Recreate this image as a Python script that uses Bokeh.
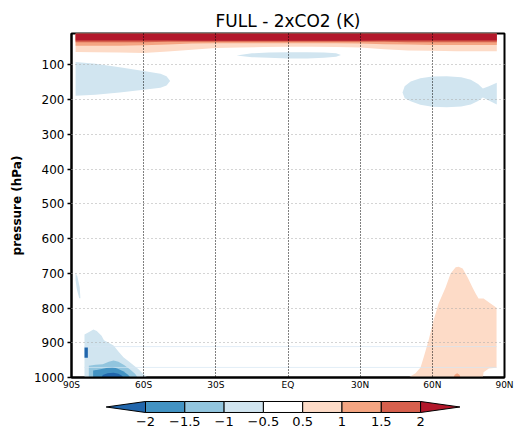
from bokeh.plotting import figure
from bokeh.layouts import column
from bokeh.models import Range1d, FixedTicker
from bokeh.embed import file_html
from bokeh.resources import INLINE
from bokeh.core.properties import value

FONT = "DejaVu Sans"

# contour levels (K) and the fill for each interval (below -2 ... above 2)
levels = [-2, -1.5, -1, -0.5, 0.5, 1, 1.5, 2]
level_labels = ["\u22122", "\u22121.5", "\u22121", "\u22120.5", "0.5", "1", "1.5", "2"]
fill_colors = ["#2166ac", "#4393c3", "#92c5de", "#d1e5f0", "#ffffff",
               "#fddbc7", "#f4a582", "#d6604d", "#b2182b"]

lat_ticks = [-90, -60, -30, 0, 30, 60, 90]
lat_tick_labels = ["90S", "60S", "30S", "EQ", "30N", "60N", "90N"]
p_ticks = [100, 200, 300, 400, 500, 600, 700, 800, 900, 1000]
p_top = 10

# stratospheric warming: lower edge (hPa) of each positive contour along latitude
top_lat = [-88.3, -80, -70, -60, -50, -40, -30, -20, -10, 0, 10, 20, 30, 40, 50, 60, 70, 80, 86.8]
top_p_05 = [63, 64, 65, 66, 62, 57, 52, 50, 49, 48, 48, 49, 50, 55, 59, 60, 61, 61, 61]
top_p_10 = [45, 45, 45, 44, 42, 39, 38, 38, 38, 38, 38, 38, 39, 41, 42, 43, 43, 43, 43]
top_p_15 = [35, 35, 35, 35, 34, 34, 34, 34, 34, 34, 34, 34, 34, 34, 35, 35, 35, 35, 35]
top_p_20 = [30, 30, 30, 30, 30, 31, 31, 31, 31, 31, 31, 31, 31, 30, 30, 30, 30, 30, 30]

# cooling regions (-1 .. -0.5 K) in the upper troposphere / lower stratosphere
sh_upper_lat = [-88.3, -80, -70, -60, -53, -50.5, -49, -50.5, -53, -60, -70, -80, -88.3]
sh_upper_p = [92, 97, 107, 118, 126, 133, 147, 160, 166, 172, 180, 186, 189]

eq_upper_lat = [-21.4, -15, -8, 0, 8, 15, 20, 22, 20, 15, 8, 0, -8, -15]
eq_upper_p = [73, 67, 65, 64, 64, 65, 67, 72, 77, 80, 82, 82, 80, 78]

nh_upper_lat = [47.6, 48.5, 51, 55, 60, 66, 72, 76, 79, 81, 83.5, 86.8,
                86.8, 83.5, 81, 79, 76, 72, 66, 60, 55, 51, 48.5]
nh_upper_p = [180, 162, 148, 139, 134, 133, 136, 143, 155, 168, 162, 152,
              214, 203, 194, 204, 214, 220, 222, 221, 215, 205, 196]

sh_sliver_lat = [-88.3, -87.6, -86.6, -86.3, -86.8, -87.8, -88.3]
sh_sliver_p = [700, 708, 740, 772, 772, 745, 720]

# Southern Ocean near-surface cooling, one outline per contour interval
sh_low_lat_05 = [-84.6, -84.6, -82.5, -80.9, -79.5, -77.5, -76.5, -74, -72.5,
                 -70.5, -68.4, -66, -64.2, -62, -60.5, -58.4]
sh_low_p_05 = [1000, 876, 868, 862, 866, 880, 893, 902, 908, 925, 942, 955, 965, 977, 988, 1000]
sh_low_lat_10 = [-82.8, -82.8, -80, -77, -74.5, -72.5, -70.5, -68, -65.5, -63.5, -62.5]
sh_low_p_10 = [1000, 966, 963, 962, 955, 951, 955, 965, 978, 990, 1000]
sh_low_lat_15 = [-81, -81, -78, -75, -73, -71, -68.5, -66.5, -65.5]
sh_low_p_15 = [1000, 980, 976, 972, 970, 974, 982, 992, 1000]
sh_low_lat_20 = [-77.5, -77, -75, -72.5, -70.5, -69, -68.5]
sh_low_p_20 = [1000, 993, 988, 986, 989, 995, 1000]
sh_edge_lat = [-84.6, -83.2, -83.2, -84.6]
sh_edge_p = [914, 914, 943, 943]

# Arctic lower-tropospheric warming
nh_low_lat_05 = [50.1, 53, 55.1, 56.4, 58.4, 60.5, 62.6, 65.5, 67.6, 69.7, 70.9, 72.6,
                 74.7, 76.7, 78, 79.2, 81.3, 84.2, 86.7, 86.7, 83.5, 81.3, 81]
nh_low_p_05 = [1000, 988, 971, 942, 894, 836, 787, 741, 701, 683, 681, 686,
               712, 741, 758, 773, 773, 787, 799, 972, 974, 985, 1000]
nh_low_lat_10 = [68.8, 69.3, 70.3, 71.3, 71.7]
nh_low_p_10 = [1000, 992, 988, 992, 1000]

# faint model-level seams
seam_p = [911, 971]
seam_lat0 = [-84.6, -84.6]
seam_lat1 = [86.7, 86.7]

p = figure(frame_width=433, frame_height=344,
           x_range=Range1d(-90, 90), y_range=Range1d(1000, p_top),
           min_border_left=71, min_border_right=10, min_border_top=33, min_border_bottom=14,
           output_backend="svg", toolbar_location=None, title="FULL - 2xCO2 (K)")

p.title.align = "center"
p.title.text_font = FONT
p.title.text_font_size = "17px"
p.title.text_font_style = "normal"
p.title.text_color = "black"
p.title.standoff = 5

# upper-level warming bands, stacked from weakest to strongest
for edge, color in zip([top_p_05, top_p_10, top_p_15, top_p_20], fill_colors[5:]):
    xs = top_lat + top_lat[::-1]
    ys = [p_top] * len(top_lat) + edge[::-1]
    p.patch(xs, ys, fill_color=color, line_color=None)

light_blue = fill_colors[3]
for xs, ys in [(sh_upper_lat, sh_upper_p), (eq_upper_lat, eq_upper_p),
               (nh_upper_lat, nh_upper_p), (sh_sliver_lat, sh_sliver_p)]:
    p.patch(xs, ys, fill_color=light_blue, line_color=None)

for xs, ys, color in [(sh_low_lat_05, sh_low_p_05, fill_colors[3]),
                      (sh_low_lat_10, sh_low_p_10, fill_colors[2]),
                      (sh_low_lat_15, sh_low_p_15, fill_colors[1]),
                      (sh_low_lat_20, sh_low_p_20, fill_colors[0]),
                      (sh_edge_lat, sh_edge_p, fill_colors[0]),
                      (nh_low_lat_05, nh_low_p_05, fill_colors[5]),
                      (nh_low_lat_10, nh_low_p_10, fill_colors[6])]:
    p.patch(xs, ys, fill_color=color, line_color=None)

p.segment(x0=seam_lat0, x1=seam_lat1, y0=seam_p, y1=seam_p,
          line_color="#d6e6f2", line_width=1, line_alpha=0.7)

p.xaxis.ticker = FixedTicker(ticks=lat_ticks)
p.xaxis.major_label_overrides = dict(zip(lat_ticks, lat_tick_labels))
p.xaxis.major_tick_out = 0
p.xaxis.major_tick_in = 0
p.xaxis.minor_tick_line_color = None
p.xaxis.major_label_standoff = 2
p.xaxis.major_label_text_font = FONT
p.xaxis.major_label_text_font_size = "9px"
p.xaxis.major_label_text_color = "black"

p.yaxis.ticker = FixedTicker(ticks=p_ticks)
p.yaxis.major_tick_out = 4
p.yaxis.major_tick_in = 0
p.yaxis.minor_tick_line_color = None
p.yaxis.major_label_standoff = 3
p.yaxis.major_label_text_font = FONT
p.yaxis.major_label_text_font_size = "12px"
p.yaxis.major_label_text_color = "black"
p.yaxis.axis_label = "pressure (hPa)"
p.yaxis.axis_label_text_font = FONT
p.yaxis.axis_label_text_font_size = "12px"
p.yaxis.axis_label_text_font_style = "bold"
p.yaxis.axis_label_text_color = "black"
p.yaxis.axis_label_standoff = 7

for ax in (p.xaxis, p.yaxis):
    ax.axis_line_width = 2
    ax.axis_line_color = "black"
    ax.major_tick_line_color = "black"
    ax.major_tick_line_width = 1.5

p.xgrid.ticker = FixedTicker(ticks=lat_ticks[1:-1])
p.xgrid.grid_line_color = "black"
p.xgrid.grid_line_dash = "1 2"
p.xgrid.grid_line_width = 1
p.xgrid.level = "overlay"
p.ygrid.ticker = FixedTicker(ticks=p_ticks[:-1])
p.ygrid.grid_line_color = "#a8a8a8"
p.ygrid.grid_line_dash = "1 3"
p.ygrid.grid_line_width = 1
p.ygrid.level = "overlay"

p.outline_line_color = "black"
p.outline_line_width = 2
p.background_fill_color = "white"
p.border_fill_color = "white"

# horizontal label bar with triangular end caps; its frame lines up with the plot frame
idx = list(range(len(levels)))
n = len(levels)
cb = figure(frame_width=433, frame_height=36,
            x_range=Range1d(-1.883, 9.135), y_range=Range1d(-1.455, 1.818),
            min_border_left=71, min_border_right=10, min_border_top=0, min_border_bottom=0,
            x_axis_type=None, y_axis_type=None,
            output_backend="svg", toolbar_location=None)
cb.outline_line_color = None
cb.quad(left=idx[:-1], right=idx[1:], bottom=0, top=1,
        fill_color=fill_colors[1:n], line_color="black", line_width=1)
cb.patches(xs=[[idx[0], idx[0] - 1, idx[0]], [idx[-1], idx[-1] + 1, idx[-1]]],
           ys=[[0, 0.5, 1], [0, 0.5, 1]],
           fill_color=[fill_colors[0], fill_colors[-1]], line_color="black", line_width=1)
cb.text(x=idx, y=-0.78, text=level_labels, text_align="center", text_baseline="middle",
        text_font=value(FONT), text_font_size="13px", text_color="black")

layout = column(p, cb)
open("out.html", "w").write(file_html(layout, INLINE))
